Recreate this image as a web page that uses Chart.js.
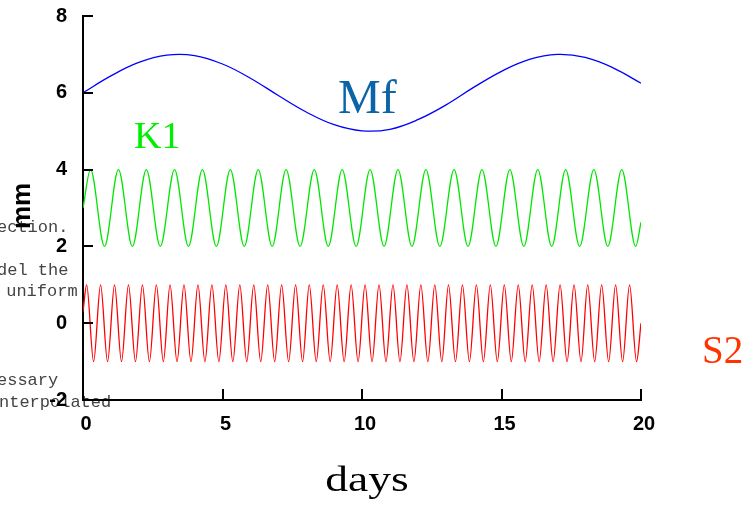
<!DOCTYPE html>
<html>
<head>
<meta charset="utf-8">
<script src="https://cdn.jsdelivr.net/npm/chart.js@4.4.0/dist/chart.umd.min.js"></script>
<style>
  html, body { margin: 0; padding: 0; background: #fff; }
  #tides { display: block; }
</style>
</head>
<body>
<canvas id="tides" width="749" height="512"></canvas>
<script>
// tick labels
const xTicks = [0, 5, 10, 15, 20];
const yTicks = [-2, 0, 2, 4, 6, 8];

// Mf - read once a day off the blue curve
const mfDays = [0, 1, 2, 3, 4, 5, 6, 7, 8, 9, 10, 11, 12, 13, 14, 15, 16, 17, 18, 19, 20];
const mfValues = [6.00, 6.44, 6.79, 6.98, 6.97, 6.75, 6.38, 5.93, 5.50, 5.17, 5.01,
                  5.05, 5.30, 5.68, 6.14, 6.56, 6.87, 7.00, 6.92, 6.65, 6.25];

// K1 - start, every crest / trough, end
const k1Days = [0,
  0.27, 0.77, 1.27, 1.77, 2.27, 2.77, 3.28, 3.78, 4.28, 4.78,
  5.28, 5.78, 6.28, 6.78, 7.28, 7.78, 8.29, 8.79, 9.29, 9.79,
  10.29, 10.79, 11.29, 11.79, 12.29, 12.79, 13.30, 13.80, 14.30, 14.80,
  15.30, 15.80, 16.30, 16.80, 17.30, 17.80, 18.31, 18.81, 19.31, 19.81,
  20];
const k1Values = [3.0,
  4, 2, 4, 2, 4, 2, 4, 2, 4, 2,
  4, 2, 4, 2, 4, 2, 4, 2, 4, 2,
  4, 2, 4, 2, 4, 2, 4, 2, 4, 2,
  4, 2, 4, 2, 4, 2, 4, 2, 4, 2,
  2.63];

// S2 - start, every crest / trough, end
const s2Days = [0,
  0.13, 0.38, 0.63, 0.88, 1.13, 1.38, 1.63, 1.88, 2.13, 2.38,
  2.63, 2.88, 3.12, 3.37, 3.62, 3.87, 4.12, 4.37, 4.62, 4.87,
  5.12, 5.37, 5.62, 5.87, 6.12, 6.37, 6.62, 6.87, 7.12, 7.37,
  7.62, 7.87, 8.11, 8.36, 8.61, 8.86, 9.11, 9.36, 9.61, 9.86,
  10.11, 10.36, 10.61, 10.86, 11.11, 11.36, 11.61, 11.86, 12.11, 12.36,
  12.61, 12.86, 13.10, 13.35, 13.60, 13.85, 14.10, 14.35, 14.60, 14.85,
  15.10, 15.35, 15.60, 15.85, 16.10, 16.35, 16.60, 16.85, 17.10, 17.35,
  17.60, 17.85, 18.09, 18.34, 18.59, 18.84, 19.09, 19.34, 19.59, 19.84,
  20];
const s2Values = [0.3,
  1, -1, 1, -1, 1, -1, 1, -1, 1, -1,
  1, -1, 1, -1, 1, -1, 1, -1, 1, -1,
  1, -1, 1, -1, 1, -1, 1, -1, 1, -1,
  1, -1, 1, -1, 1, -1, 1, -1, 1, -1,
  1, -1, 1, -1, 1, -1, 1, -1, 1, -1,
  1, -1, 1, -1, 1, -1, 1, -1, 1, -1,
  1, -1, 1, -1, 1, -1, 1, -1, 1, -1,
  1, -1, 1, -1, 1, -1, 1, -1, 1, -1,
  0.0];

function toPoints(xs, ys) {
  return xs.map((x, i) => ({ x: x, y: ys[i] }));
}

const tickFont = { family: "'Liberation Sans', Arial, sans-serif", weight: "bold", size: 20 };

// text bleeding in from the page behind the figure
const ghostLines = [
  ["ection.", -3, 232],
  ["del the", -3, 275],
  [" uniform", -4, 296],
  ["essary", -3, 385],
  ["nterpolated", -1, 407],
];

const extras = {
  id: "extras",
  beforeDraw(chart) {
    const ctx = chart.ctx;
    ctx.save();
    ctx.fillStyle = "#444";
    ctx.font = "17px 'Liberation Mono', monospace";
    ctx.textBaseline = "alphabetic";
    ctx.textAlign = "left";
    for (const [t, x, y] of ghostLines) ctx.fillText(t, x, y);
    ctx.restore();
  },
  afterDraw(chart) {
    const ctx = chart.ctx;
    const xs = chart.scales.x;
    const ys = chart.scales.y;
    const area = chart.chartArea;

    // inward tick marks
    ctx.save();
    ctx.strokeStyle = "#000";
    ctx.lineWidth = 2;
    ctx.beginPath();
    for (const v of yTicks) {
      if (v === ys.min) continue;
      const py = Math.round(ys.getPixelForValue(v));
      ctx.moveTo(area.left, py);
      ctx.lineTo(area.left + 10, py);
    }
    for (const v of xTicks) {
      if (v === xs.min) continue;
      const px = Math.round(xs.getPixelForValue(v));
      ctx.moveTo(px, area.bottom);
      ctx.lineTo(px, area.bottom - 11);
    }
    ctx.stroke();

    // series names
    ctx.textAlign = "left";
    ctx.textBaseline = "alphabetic";
    ctx.font = "48px 'Liberation Serif', 'Times New Roman', serif";
    ctx.fillStyle = "#0a64a8";
    ctx.fillText("Mf", 338, 113);
    ctx.font = "38px 'Liberation Serif', 'Times New Roman', serif";
    ctx.fillStyle = "#00ee00";
    ctx.fillText("K1", 134, 148);
    ctx.font = "39px 'Liberation Serif', 'Times New Roman', serif";
    ctx.fillStyle = "#ff3300";
    ctx.fillText("S2", 702, 363);

    // axis titles
    ctx.fillStyle = "#000";
    ctx.save();
    ctx.translate(30, 206);
    ctx.rotate(-Math.PI / 2);
    ctx.textAlign = "center";
    ctx.font = "bold 26px 'Liberation Sans', Arial, sans-serif";
    ctx.fillText("mm", 0, 0);
    ctx.restore();

    ctx.save();
    ctx.translate(367, 491);
    ctx.scale(1.3, 1);
    ctx.textAlign = "center";
    ctx.font = "35px 'Liberation Serif', 'Times New Roman', serif";
    ctx.fillText("days", 0, 0);
    ctx.restore();
    ctx.restore();
  }
};

const config = {
  type: "line",
  data: {
    datasets: [
      {
        label: "Mf",
        data: toPoints(mfDays, mfValues),
        borderColor: "#0000ff",
        borderWidth: 1.3,
        pointRadius: 0,
        tension: 0.4,
      },
      {
        label: "K1",
        data: toPoints(k1Days, k1Values),
        borderColor: "#00e600",
        borderWidth: 1.3,
        pointRadius: 0,
        cubicInterpolationMode: "monotone",
      },
      {
        label: "S2",
        data: toPoints(s2Days, s2Values),
        borderColor: "#ff0000",
        borderWidth: 1.3,
        pointRadius: 0,
        cubicInterpolationMode: "monotone",
      },
    ],
  },
  options: {
    responsive: false,
    animation: false,
    layout: { padding: { left: 0, top: 16, right: 108, bottom: 0 } },
    plugins: {
      legend: { display: false },
      tooltip: { enabled: false },
    },
    scales: {
      x: {
        type: "linear",
        min: 0,
        max: 20,
        afterBuildTicks: (s) => { s.ticks = xTicks.map((v) => ({ value: v })); },
        afterFit: (s) => { s.height = 112; s.paddingLeft = 0; s.paddingRight = 0; },
        grid: { display: false },
        border: { display: true, color: "#000", width: 2 },
        ticks: { font: tickFont, color: "#000", padding: 4, labelOffset: 3, maxRotation: 0 },
      },
      y: {
        type: "linear",
        min: -2,
        max: 8,
        afterBuildTicks: (s) => { s.ticks = yTicks.map((v) => ({ value: v })); },
        afterFit: (s) => { s.width = 83; s.paddingTop = 0; s.paddingBottom = 0; },
        grid: { display: false },
        border: { display: true, color: "#000", width: 2 },
        ticks: { font: tickFont, color: "#000", padding: 8 },
      },
    },
  },
  plugins: [extras],
};

const myChart = new Chart("tides", config);
</script>
</body>
</html>
